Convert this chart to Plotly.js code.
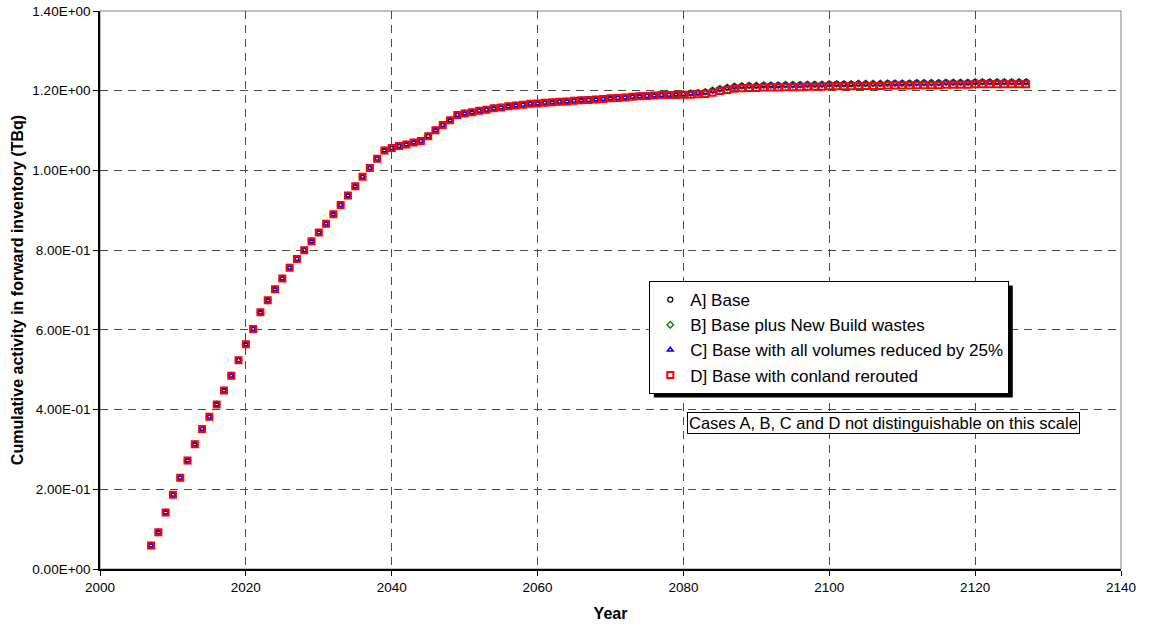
<!DOCTYPE html>
<html>
<head>
<meta charset="utf-8">
<script src="https://cdn.plot.ly/plotly-3.0.1.min.js"></script>
<style>html,body{margin:0;padding:0;background:#fff;}#chart{width:1149px;height:624px;}</style>
</head>
<body>
<div id="chart"></div>
<script>
const years = [2007,2008,2009,2010,2011,2012,2013,2014,2015,2016,
2017,2018,2019,2020,2021,2022,2023,2024,2025,2026,
2027,2028,2029,2030,2031,2032,2033,2034,2035,2036,
2037,2038,2039,2040,2041,2042,2043,2044,2045,2046,
2047,2048,2049,2050,2051,2052,2053,2054,2055,2056,
2057,2058,2059,2060,2061,2062,2063,2064,2065,2066,
2067,2068,2069,2070,2071,2072,2073,2074,2075,2076,
2077,2078,2079,2080,2081,2082,2083,2084,2085,2086,
2087,2088,2089,2090,2091,2092,2093,2094,2095,2096,
2097,2098,2099,2100,2101,2102,2103,2104,2105,2106,
2107,2108,2109,2110,2111,2112,2113,2114,2115,2116,
2117,2118,2119,2120,2121,2122,2123,2124,2125,2126,
2127];

const caseA = [0.059,0.092,0.142,0.186,0.229,0.272,0.313,0.351,0.382,0.413,
0.448,0.485,0.524,0.564,0.602,0.644,0.674,0.702,0.729,0.756,
0.778,0.800,0.822,0.844,0.866,0.890,0.913,0.937,0.960,0.984,
1.006,1.029,1.050,1.056,1.061,1.065,1.070,1.074,1.086,1.101,
1.114,1.126,1.139,1.143,1.146,1.150,1.152,1.156,1.158,1.161,
1.163,1.165,1.167,1.168,1.170,1.171,1.172,1.173,1.175,1.176,
1.177,1.178,1.179,1.181,1.182,1.183,1.185,1.186,1.187,1.188,
1.189,1.190,1.191,1.192,1.194,1.195,1.197,1.201,1.205,1.208,
1.211,1.212,1.213,1.213,1.214,1.214,1.214,1.215,1.215,1.215,
1.216,1.216,1.216,1.217,1.217,1.217,1.217,1.218,1.218,1.218,
1.218,1.219,1.219,1.219,1.219,1.220,1.220,1.220,1.220,1.221,
1.221,1.221,1.221,1.222,1.222,1.222,1.222,1.222,1.222,1.222,
1.222];

const caseB = [0.059,0.092,0.142,0.186,0.229,0.272,0.313,0.351,0.382,0.413,
0.448,0.485,0.524,0.564,0.602,0.644,0.674,0.702,0.729,0.756,
0.778,0.800,0.822,0.844,0.866,0.890,0.913,0.937,0.960,0.984,
1.006,1.029,1.050,1.056,1.061,1.065,1.070,1.074,1.086,1.101,
1.114,1.126,1.139,1.143,1.146,1.150,1.152,1.156,1.158,1.161,
1.163,1.165,1.167,1.168,1.170,1.171,1.172,1.173,1.175,1.176,
1.177,1.178,1.179,1.181,1.182,1.183,1.185,1.186,1.187,1.188,
1.189,1.190,1.191,1.192,1.194,1.195,1.197,1.201,1.205,1.208,
1.211,1.212,1.213,1.213,1.214,1.214,1.214,1.215,1.215,1.215,
1.216,1.216,1.216,1.217,1.217,1.217,1.217,1.218,1.218,1.218,
1.218,1.219,1.219,1.219,1.219,1.220,1.220,1.220,1.220,1.221,
1.221,1.221,1.221,1.222,1.222,1.222,1.222,1.222,1.222,1.222,
1.222];

const caseC = [0.059,0.092,0.142,0.186,0.229,0.272,0.313,0.351,0.382,0.413,
0.448,0.485,0.524,0.564,0.602,0.644,0.674,0.702,0.729,0.756,
0.778,0.800,0.822,0.844,0.866,0.890,0.913,0.937,0.960,0.984,
1.006,1.029,1.050,1.056,1.061,1.065,1.070,1.074,1.086,1.101,
1.114,1.126,1.139,1.143,1.146,1.150,1.152,1.156,1.158,1.161,
1.163,1.165,1.167,1.168,1.170,1.171,1.172,1.173,1.175,1.176,
1.177,1.178,1.179,1.181,1.182,1.183,1.185,1.186,1.187,1.188,
1.189,1.190,1.191,1.192,1.193,1.194,1.196,1.200,1.204,1.207,
1.210,1.211,1.212,1.212,1.213,1.213,1.213,1.214,1.214,1.214,
1.215,1.215,1.215,1.216,1.216,1.216,1.216,1.217,1.217,1.217,
1.217,1.218,1.218,1.218,1.218,1.219,1.219,1.219,1.219,1.220,
1.220,1.220,1.220,1.221,1.221,1.221,1.221,1.221,1.221,1.221,
1.221];

const caseD = [0.059,0.092,0.142,0.186,0.229,0.272,0.313,0.351,0.382,0.413,
0.448,0.485,0.524,0.564,0.602,0.644,0.674,0.702,0.729,0.756,
0.778,0.800,0.822,0.844,0.866,0.890,0.913,0.937,0.960,0.984,
1.006,1.029,1.050,1.056,1.061,1.065,1.070,1.074,1.086,1.101,
1.114,1.126,1.139,1.143,1.146,1.150,1.152,1.156,1.158,1.161,
1.163,1.165,1.167,1.168,1.170,1.171,1.172,1.173,1.175,1.176,
1.177,1.178,1.179,1.181,1.182,1.183,1.185,1.186,1.187,1.188,
1.189,1.189,1.189,1.190,1.190,1.191,1.192,1.195,1.199,1.202,
1.205,1.206,1.207,1.207,1.208,1.208,1.208,1.209,1.209,1.209,
1.210,1.210,1.210,1.211,1.211,1.211,1.211,1.212,1.212,1.212,
1.212,1.213,1.213,1.213,1.213,1.214,1.214,1.214,1.214,1.215,
1.215,1.215,1.215,1.216,1.216,1.216,1.216,1.216,1.216,1.216,
1.216];

const seriesNames = ['A] Base','B] Base plus New Build wastes','C] Base with all volumes reduced by 25%','D] Base with conland rerouted'];
const yTickVals = [0,0.2,0.4,0.6,0.8,1.0,1.2,1.4];
const yTickText = ['0.00E+00','2.00E-01','4.00E-01','6.00E-01','8.00E-01','1.00E+00','1.20E+00','1.40E+00'];
const xTickVals = [2000,2020,2040,2060,2080,2100,2120,2140];
const noteText = 'Cases A, B, C and D not distinguishable on this scale';

const FONT = 'Arial, "Liberation Sans", Helvetica, sans-serif';

function tr(y, name, sym, color, size, lw, grp) {
  return {
    x: years, y: y, name: name, type: 'scatter', mode: 'markers',
    legendgroup: grp,
    marker: {symbol: sym, size: size, color: color, line: {color: color, width: lw}},
    hoverinfo: 'x+y+name'
  };
}

const data = [
  tr(caseA, seriesNames[0], 'circle-open', '#000000', 5, 1.3, 'a'),
  tr(caseB, seriesNames[1], 'diamond-open', '#008000', 5, 1.3, 'b'),
  tr(caseC, seriesNames[2], 'triangle-up-open', '#0000ff', 5, 1.5, 'c'),
  tr(caseD, seriesNames[3], 'square-open', '#ff0000', 6, 2, 'd')
];

const layout = {
  width: 1149, height: 624,
  margin: {l: 100, r: 28, t: 11, b: 55, pad: 0},
  paper_bgcolor: '#ffffff', plot_bgcolor: '#ffffff',
  font: {family: FONT, size: 13, color: '#000'},
  showlegend: true,
  legend: {
    x: 0.538, y: 0.516, xanchor: 'left', yanchor: 'top',
    bgcolor: '#ffffff', bordercolor: '#000000', borderwidth: 1,
    font: {family: FONT, size: 17, color: '#000'},
    tracegroupgap: 0, itemwidth: 30
  },
  xaxis: {
    range: [2000, 2140], tickvals: xTickVals, ticktext: xTickVals.map(String),
    showgrid: true, gridcolor: '#4a4a4a', gridwidth: 1, griddash: '8px,6px',
    showline: true, linecolor: '#000000', linewidth: 1.5,
    ticks: 'outside', ticklen: 5, tickcolor: '#000', tickwidth: 1,
    zeroline: false, tickfont: {family: FONT, size: 13.5, color: '#000'},
    title: {text: '<b>Year</b>', font: {family: FONT, size: 16, color: '#000'}, standoff: 14}
  },
  yaxis: {
    range: [0, 1.4], tickvals: yTickVals, ticktext: yTickText,
    showgrid: true, gridcolor: '#4a4a4a', gridwidth: 1, griddash: '8px,6px',
    showline: true, linecolor: '#000000', linewidth: 1.5,
    ticks: 'outside', ticklen: 5, tickcolor: '#000', tickwidth: 1,
    zeroline: false, tickfont: {family: FONT, size: 13.5, color: '#000'},
    title: {text: '<b>Cumulative activity in forward inventory (TBq)</b>', font: {family: FONT, size: 16, color: '#000'}, standoff: 5}
  },
  shapes: [
    {type: 'rect', xref: 'paper', yref: 'paper', x0: 0, x1: 1, y0: 0, y1: 1,
     line: {color: '#808080', width: 1}, layer: 'below'}
  ],
  annotations: [
    {xref: 'paper', yref: 'paper', x: 0.575, y: 0.262, xanchor: 'left', yanchor: 'middle',
     text: noteText, showarrow: false, align: 'left',
     font: {family: FONT, size: 16.5, color: '#000'},
     bgcolor: '#ffffff', bordercolor: '#000000', borderwidth: 1, borderpad: 1}
  ]
};

Plotly.newPlot('chart', data, layout, {displayModeBar: false}).then(function (gd) {
  const bg = gd.querySelector('.legend .bg');
  if (!bg) return;
  const r = bg.getBoundingClientRect();
  const c = gd.getBoundingClientRect();
  const s = gd._fullLayout._size;
  const off = 4;
  const px2x = function (px) { return (px - c.left - s.l) / s.w; };
  const px2y = function (py) { return 1 - (py - c.top - s.t) / s.h; };
  const shapes = layout.shapes.concat([{
    type: 'rect', xref: 'paper', yref: 'paper',
    x0: px2x(r.left + off), x1: px2x(r.right + off),
    y0: px2y(r.bottom + off), y1: px2y(r.top + off),
    fillcolor: '#000000', line: {width: 0}, layer: 'above'
  }]);
  return Plotly.relayout(gd, {shapes: shapes});
});
</script>
</body>
</html>
